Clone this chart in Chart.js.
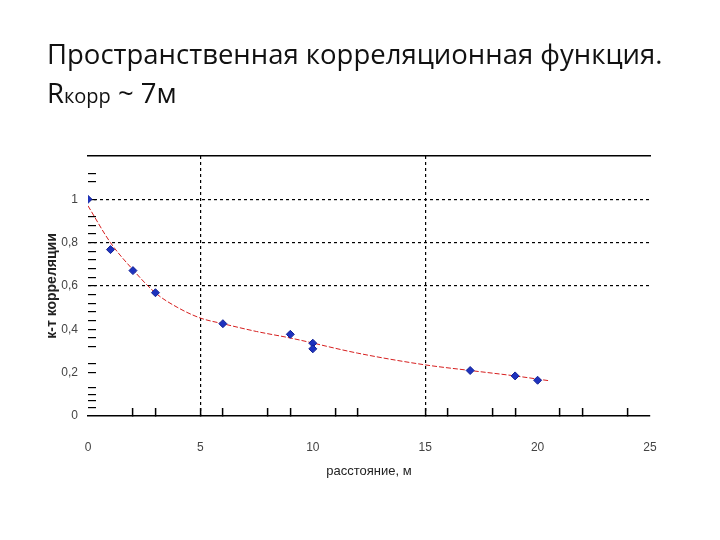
<!DOCTYPE html>
<html>
<head>
<meta charset="utf-8">
<script src="https://cdn.jsdelivr.net/npm/chart.js@4"></script>
<style>
  body { margin: 0; background: #fff; }
  #wrap { position: relative; width: 720px; height: 540px; }
  #title { position: absolute; left: 47px; top: 34px; font-family: 'Open Sans', sans-serif; font-size: 27.5px; line-height: 39px; color: #111; }
  #title small { font-size: 20px; }
</style>
</head>
<body>
<div id="wrap">
  <div id="title">Пространственная корреляционная функция.<br>R<small>корр</small> ~ 7м</div>
  <canvas id="chart" width="720" height="540"></canvas>
</div>
<script>
// measured points
const distance = [0, 1, 2, 3, 6, 9, 10, 10, 17, 19, 20];
const corr = [1.0, 0.768, 0.671, 0.569, 0.426, 0.377, 0.336, 0.31, 0.21, 0.185, 0.165];

// red trend curve
const trendX = [0, 1, 2, 3, 4, 5, 6, 7.5, 9, 12, 15, 17, 19, 20.5];
const trendY = [0.97, 0.8, 0.675, 0.568, 0.5, 0.452, 0.426, 0.39, 0.36, 0.29, 0.236, 0.21, 0.185, 0.163];

// axis ticks
const xLabels = [0, 5, 10, 15, 20, 25];
const xMinor = [2, 3, 6, 8, 9, 11, 12, 16, 18, 19, 21, 22, 24];
const xDotted = [5, 15];
const yLabels = [0, 0.2, 0.4, 0.6, 0.8, 1];
const yMinor = [0.04, 0.07, 0.1, 0.13, 0.24, 0.32, 0.36, 0.44, 0.48, 0.52, 0.56, 0.64, 0.68, 0.72, 0.76, 0.84, 0.88, 0.92, 1.08, 1.12];
const yDotted = [0.6, 0.8, 1];

const near = (arr, v) => arr.some(a => Math.abs(a - v) < 1e-6);

const tickFont = { family: 'Liberation Sans', size: 12 };

const ctx = document.getElementById('chart');
const chart = new Chart(ctx, {
  type: 'scatter',
  data: {
    datasets: [
      {
        label: 'trend',
        type: 'line',
        data: trendX.map((x, i) => ({ x: x, y: trendY[i] })),
        borderColor: 'rgb(214, 30, 30)',
        borderWidth: 1,
        borderDash: [5, 2],
        pointRadius: 0,
        cubicInterpolationMode: 'monotone',
        order: 2,
      },
      {
        label: 'data',
        data: distance.map((x, i) => ({ x: x, y: corr[i] })),
        pointStyle: 'rectRot',
        pointRadius: 4,
        backgroundColor: 'rgb(30, 50, 190)',
        borderColor: 'rgb(20, 35, 150)',
        borderWidth: 1,
        order: 1,
      },
    ],
  },
  options: {
    responsive: false,
    animation: false,
    layout: { padding: { left: 40, top: 156, right: 70, bottom: 57 } },
    plugins: { legend: { display: false }, tooltip: { enabled: false } },
    scales: {
      x: {
        type: 'linear',
        min: 0,
        max: 25,
        afterBuildTicks: s => { s.ticks = xLabels.concat(xMinor).sort((a, b) => a - b).map(v => ({ value: v })); },
        afterFit: s => { s.height = 67; },
        ticks: {
          autoSkip: false,
          maxRotation: 0,
          padding: 32,
          color: '#444',
          font: tickFont,
          callback: v => (near(xLabels, v) ? String(v) : ''),
        },
        grid: {
          tickLength: -8,
          tickBorderDash: [],
          tickWidth: 1.5,
          color: c => (near(xDotted, c.tick.value) ? '#000' : 'rgba(0,0,0,0)'),
          tickColor: c => (near(xMinor, c.tick.value) || near(xDotted, c.tick.value) ? '#000' : 'rgba(0,0,0,0)'),
          lineWidth: 1.2,
        },
        border: { display: true, color: '#000', width: 1.5, dash: [3, 3] },
        title: {
          display: true,
          text: 'расстояние, м',
          color: '#222',
          font: { family: 'Liberation Sans', size: 13 },
          padding: { top: 0 },
        },
      },
      x2: {
        type: 'linear',
        position: 'top',
        min: 0,
        max: 25,
        afterFit: s => { s.height = 0; },
        ticks: { display: false },
        grid: { drawOnChartArea: false, drawTicks: false },
        border: { display: true, color: '#000', width: 1.5 },
      },
      y: {
        min: 0,
        max: 1.2,
        afterBuildTicks: s => { s.ticks = yLabels.concat(yMinor).sort((a, b) => a - b).map(v => ({ value: v })); },
        afterFit: s => { s.width = 48; },
        ticks: {
          autoSkip: false,
          padding: 18,
          color: '#444',
          font: tickFont,
          callback: v => (near(yLabels, v) ? String(Math.round(v * 10) / 10).replace('.', ',') : ''),
        },
        grid: {
          tickLength: -8,
          tickBorderDash: [],
          tickWidth: 1.2,
          color: c => (near(yDotted, c.tick.value) ? '#000' : 'rgba(0,0,0,0)'),
          tickColor: c => (c.tick.value === 0 ? 'rgba(0,0,0,0)' : '#000'),
          lineWidth: 1.2,
        },
        border: { display: false, dash: [3, 3] },
        title: {
          display: true,
          text: 'к-т корреляции',
          color: '#222',
          font: { family: 'Liberation Sans', size: 14, weight: 'bold' },
          padding: { bottom: 0 },
        },
      },
    },
  },
});
</script>
</body>
</html>
